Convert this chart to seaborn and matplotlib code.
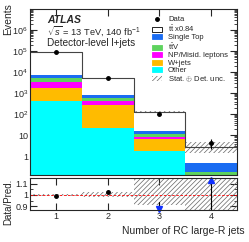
import numpy as np
import pandas as pd
import matplotlib
matplotlib.use("Agg")
import matplotlib.pyplot as plt
import seaborn as sns
from matplotlib.patches import Patch
from matplotlib.lines import Line2D
from matplotlib.ticker import FixedLocator, FuncFormatter, LogLocator, NullFormatter, MultipleLocator

# bins: number of RC large-R jets
njets = [1, 2, 3, 4]

# MC stack (events per bin), bottom -> top
other = [405, 22, 1.85, 0.02]
wjets = [1425, 258, 4.85, 0.02]
np_misid = [1720, 160, 2.0, 0.02]
ttv = [1550, 150, 3.0, 0.12]
single_top = [1800, 200, 5.0, 0.31]
ttbar = [86100, 4310, 104, 2.21]

# data
data = [92500, 5240, 103, 4.4]
data_err = [304, 72, 10.1, 2.1]

# relative stat + det uncertainty on the prediction
unc_up = [0.005, 0.023, 0.14, 0.85]
unc_dn = [0.005, 0.020, 0.09, 0.45]

processes = ["ttbar", "Single Top", "ttV", "NP/Misid. leptons", "W+jets", "Other"]
labels = [r"$\mathrm{t\bar{t}}$ x0.84", "Single Top", r"$\mathrm{t\bar{t}V}$",
          "NP/Misid. leptons", "W+jets", "Other"]
colors = ["#ffffff", "#1a6cf2", "#5ed35e", "#ff00ff", "#ffbb00", "#00ffff"]
hatch_col = "#666666"

sns.set_style("ticks")
plt.rcParams["font.family"] = ["Liberation Sans", "DejaVu Sans"]
plt.rcParams["mathtext.fontset"] = "custom"
plt.rcParams["mathtext.rm"] = "Liberation Sans"
plt.rcParams["mathtext.it"] = "Liberation Sans:italic"
plt.rcParams["hatch.linewidth"] = 0.5

mc = pd.DataFrame({
    "njets": njets * 6,
    "events": ttbar + single_top + ttv + np_misid + wjets + other,
    "process": sum([[p] * 4 for p in processes], []),
})
total = np.array(ttbar) + np.array(single_top) + np.array(ttv) + np.array(np_misid) \
    + np.array(wjets) + np.array(other)
edges = np.append(np.array(njets) - 0.5, njets[-1] + 0.5)

fig = plt.figure(figsize=(2.49, 2.42), dpi=100)
W, H = 249.0, 242.0
ax = fig.add_axes([30 / W, 1 - 175 / H, 207 / W, (175 - 9.3) / H])
rax = fig.add_axes([30 / W, 1 - 210 / H, 207 / W, (210 - 178.3) / H])

# stacked MC
sns.histplot(data=mc, x="njets", weights="events", hue="process", hue_order=processes,
             multiple="stack", discrete=True, palette=dict(zip(processes, colors)),
             linewidth=0, alpha=1, legend=False, ax=ax)
ax.set_yscale("log")
# outline of total prediction
sns.histplot(x=njets, weights=total, discrete=True, element="step", fill=False,
             color="#444444", linewidth=0.8, ax=ax)

# uncertainty band
up = np.append(total * (1 + np.array(unc_up)), total[-1] * (1 + unc_up[-1]))
dn = np.append(total * (1 - np.array(unc_dn)), total[-1] * (1 - unc_dn[-1]))
ax.fill_between(edges, dn, up, step="post", facecolor="none", edgecolor=hatch_col,
                hatch="///////", linewidth=0)

# data
ax.errorbar(njets, data, yerr=data_err, fmt="o", color="black", ms=2.5,
            elinewidth=0.8, capsize=0)

ax.set_xlim(0.5, 4.5)
ax.set_ylim(0.13, 9.5e6)
ax.yaxis.set_major_locator(FixedLocator([1, 10, 1e2, 1e3, 1e4, 1e5, 1e6]))
ax.yaxis.set_major_formatter(FuncFormatter(
    lambda v, p: {1: "1", 10: "10"}.get(int(round(v)), r"$10^{%d}$" % round(np.log10(v)))))
ax.yaxis.set_minor_locator(LogLocator(base=10, subs=np.arange(2, 10), numticks=20))
ax.yaxis.set_minor_formatter(NullFormatter())
ax.set_xticks(njets)
ax.set_xticklabels([])
ax.set_xlabel("")
ax.set_ylabel("")
ax.tick_params(which="both", direction="in", top=True, right=True, labelsize=6.5, pad=1.5)
ax.tick_params(which="major", length=5, width=0.8)
ax.tick_params(which="minor", length=2.5, width=0.6)

# labels in the plot
tx = (47 - 30) / 207
ax.text(tx, 1 - (20 - 9.3) / 165.7, "ATLAS", transform=ax.transAxes,
        fontsize=7.5, fontweight="bold", fontstyle="italic", va="center")
ax.text(tx, 1 - (31.5 - 9.3) / 165.7, r"$\sqrt{s}$ = 13 TeV, 140 fb$^{-1}$",
        transform=ax.transAxes, fontsize=6.7, va="center")
ax.text(tx, 1 - (43 - 9.3) / 165.7, "Detector-level l+jets",
        transform=ax.transAxes, fontsize=7.2, va="center")

# legend
handles = [Line2D([], [], marker="o", color="black", ls="none", ms=2.5)]
handles += [Patch(facecolor=c, edgecolor="black" if c == "#ffffff" else c, linewidth=0.6)
            for c in colors]
handles.append(Patch(facecolor="none", edgecolor=hatch_col, hatch="///////", linewidth=0))
leg = ax.legend(handles, ["Data"] + labels + [r"Stat. $\oplus$ Det. unc."],
                loc="upper left", bbox_to_anchor=(152 / W, 1 - 16 / H),
                bbox_transform=fig.transFigure, frameon=False, fontsize=5.5,
                borderpad=0, borderaxespad=0, handlelength=1.3, handleheight=0.7,
                handletextpad=0.8, labelspacing=0.02)

# ratio panel
ratio = np.array(data) / total
ratio_err = np.array(data_err) / total
rlo, rhi = 0.865, 1.15
rax.fill_between(edges, np.append(1 - np.array(unc_dn), 1 - unc_dn[-1]),
                 np.append(1 + np.array(unc_up), 1 + unc_up[-1]), step="post",
                 facecolor="none", edgecolor=hatch_col, hatch="///////", linewidth=0)
rax.axhline(1, color="red", ls=(0, (3, 2)), lw=0.6)
inside = (ratio > rlo) & (ratio < rhi)
rax.errorbar(np.array(njets)[inside], ratio[inside], yerr=ratio_err[inside], fmt="o",
             color="black", ms=2.5, elinewidth=0.8, capsize=0)
for x, r, e in zip(njets, ratio, ratio_err):
    if r <= rlo:
        rax.plot([x, x], [min(r + e, rhi), rlo], color="black", lw=0.8)
        rax.plot(x, rlo + 0.012, marker="v", color="#1030ff", ms=4, clip_on=False)
    elif r >= rhi:
        rax.plot([x, x], [max(r - e, rlo), rhi], color="black", lw=0.8)
        rax.plot(x, rhi - 0.012, marker="^", color="#1030ff", ms=4, clip_on=False)

rax.set_xlim(0.5, 4.5)
rax.set_ylim(rlo, rhi)
rax.set_xticks(njets)
rax.set_xticklabels([str(n) for n in njets])
rax.set_yticks([0.9, 1.0, 1.1])
rax.set_yticklabels(["0.9", "1", "1.1"])
rax.yaxis.set_minor_locator(MultipleLocator(0.05))
rax.tick_params(which="both", direction="in", top=True, right=True, labelsize=6.5, pad=1.5)
rax.tick_params(which="major", length=5, width=0.8)
rax.tick_params(which="minor", length=2.5, width=0.6)
for a in (ax, rax):
    for s in a.spines.values():
        s.set_linewidth(0.8)

fig.text(8 / W, 1 - 3 / H, "Events", rotation=90, ha="center", va="top", fontsize=7.5)
fig.text(8 / W, 1 - 179 / H, "Data/Pred.", rotation=90, ha="center", va="top", fontsize=7)
fig.text(245 / W, 1 - 231 / H, "Number of RC large-R jets", ha="right", va="center",
         fontsize=7.5)

fig.savefig("out.png", dpi=100)
